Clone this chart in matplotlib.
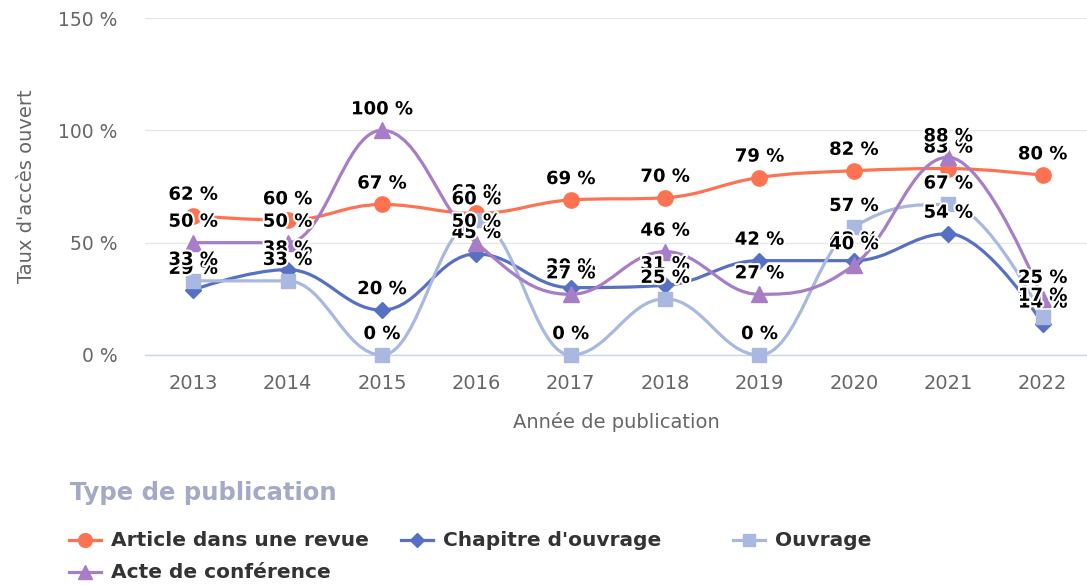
import numpy as np
import matplotlib
matplotlib.use('Agg')
import matplotlib.pyplot as plt
from matplotlib.path import Path
from matplotlib.patches import PathPatch
from matplotlib.lines import Line2D
import matplotlib.patheffects as pe

plt.rcParams['font.family'] = ['DejaVu Sans']

# données
annees = ['2013', '2014', '2015', '2016', '2017', '2018', '2019', '2020', '2021', '2022']
article = [62, 60, 67, 63, 69, 70, 79, 82, 83, 80]
chapitre = [29, 38, 20, 45, 30, 31, 42, 42, 54, 14]
ouvrage = [33, 33, 0, 60, 0, 25, 0, 57, 67, 17]
acte = [50, 50, 100, 50, 27, 46, 27, 40, 88, 25]

noms = ["Article dans une revue", "Chapitre d'ouvrage", "Ouvrage", "Acte de conférence"]
couleurs = ['#fd7352', '#5670c4', '#a9b8e0', '#a77dc8']
marqueurs = ['o', 'D', 's', '^']
tailles = [11, 8, 10, 11]
series = [article, chapitre, ouvrage, acte]


# courbe "spline" façon highcharts (bezier)
def spline_path(xs, ys, smoothing=1.5):
    n = len(xs)
    denom = smoothing + 1
    rc = [(xs[i], ys[i]) for i in range(n)]
    lc = [(xs[i], ys[i]) for i in range(n)]
    for i in range(1, n - 1):
        x, y = xs[i], ys[i]
        lx, ly = xs[i - 1], ys[i - 1]
        nx, ny = xs[i + 1], ys[i + 1]
        lcx = (smoothing * x + lx) / denom
        lcy = (smoothing * y + ly) / denom
        rcx = (smoothing * x + nx) / denom
        rcy = (smoothing * y + ny) / denom
        corr = (rcy - lcy) * (rcx - x) / (rcx - lcx) + y - rcy
        lcy += corr
        rcy += corr
        if lcy > ly and lcy > y:
            lcy = max(ly, y)
            rcy = 2 * y - lcy
        elif lcy < ly and lcy < y:
            lcy = min(ly, y)
            rcy = 2 * y - lcy
        if rcy > ny and rcy > y:
            rcy = max(ny, y)
            lcy = 2 * y - rcy
        elif rcy < ny and rcy < y:
            rcy = min(ny, y)
            lcy = 2 * y - rcy
        lc[i] = (lcx, lcy)
        rc[i] = (rcx, rcy)
    verts = [(xs[0], ys[0])]
    codes = [Path.MOVETO]
    for i in range(1, n):
        verts += [rc[i - 1], lc[i], (xs[i], ys[i])]
        codes += [Path.CURVE4] * 3
    return Path(verts, codes)


fig = plt.figure(figsize=(10.87, 5.85), dpi=100)
W, H = 1087, 585
ax = fig.add_axes([145 / W, 1 - 355 / H, (1087 - 145) / W, (355 - 18) / H])

x = np.arange(len(annees))
for k, (vals, c, m, ms) in enumerate(zip(series, couleurs, marqueurs, tailles)):
    p = spline_path(x.astype(float), np.array(vals, dtype=float))
    ax.add_patch(PathPatch(p, facecolor='none', edgecolor=c, lw=2.3, zorder=3 + k, clip_on=False))
    ax.plot(x, vals, linestyle='none', marker=m, ms=ms, color=c, mec=c, zorder=3 + k, clip_on=False)

for k, vals in enumerate(series):
    for i, v in enumerate(vals):
        ax.annotate(f'{v} %', (x[i], v), xytext=(0, 11.5), textcoords='offset points',
                    ha='center', va='baseline', fontsize=13, fontweight='bold', color='black',
                    zorder=20 + k, annotation_clip=False,
                    path_effects=[pe.withStroke(linewidth=3, foreground='white')])

ax.set_xlim(-0.51, 9.47)
ax.set_ylim(0, 150)
ax.set_yticks([0, 50, 100, 150])
ax.set_yticklabels(['0 %', '50 %', '100 %', '150 %'])
ax.set_xticks(x)
ax.set_xticklabels(annees)
ax.tick_params(axis='both', length=0, labelsize=13.5, colors='#666666')
ax.tick_params(axis='x', labelsize=14, pad=14)
ax.tick_params(axis='y', pad=20)
ax.grid(axis='y', color='#e6e6e6', lw=1)
ax.set_axisbelow(True)
for s in ['top', 'right', 'left']:
    ax.spines[s].set_visible(False)
ax.spines['bottom'].set_color('#ccd6eb')
ax.spines['bottom'].set_linewidth(1)

ax.set_ylabel("Taux d'accès ouvert", fontsize=14, color='#666666', labelpad=16)
ax.set_xlabel("Année de publication", fontsize=14, color='#666666', labelpad=13)

# légende
fig.text(70 / W, 1 - 493 / H, 'Type de publication', fontsize=17.5, fontweight='bold',
         color='#a4a9c6', va='center', ha='left')
pos = [(69, 540), (401, 540), (733, 540), (69, 572)]
for (px, py), nom, c, m, ms in zip(pos, noms, couleurs, marqueurs, tailles):
    fx0, fx1, fy = px / W, (px + 32) / W, 1 - py / H
    fig.add_artist(Line2D([fx0, fx1], [fy, fy], color=c, lw=2.3, transform=fig.transFigure))
    fig.add_artist(Line2D([(fx0 + fx1) / 2], [fy], color=c, marker=m, ms=ms * 0.9,
                          linestyle='none', transform=fig.transFigure))
    fig.text((px + 42) / W, fy, nom, fontsize=14.5, fontweight='bold', color='#333333',
             va='center', ha='left')

fig.savefig('out.png', dpi=100)
